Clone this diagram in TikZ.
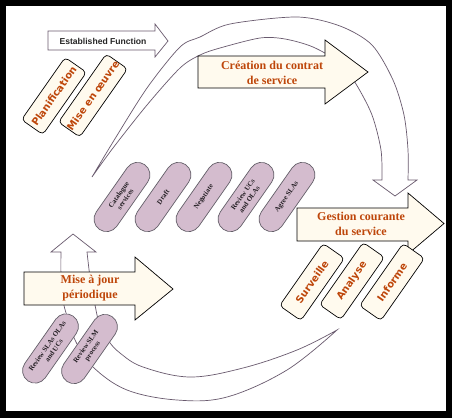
\documentclass[tikz,border=0pt]{standalone}
\usepackage{fontspec}
\usetikzlibrary{shapes.misc}
\newfontfamily\lserif{Liberation Serif}
\newfontfamily\dejavu{DejaVu Sans}
\newfontfamily\lsans{Liberation Sans}
\definecolor{cream}{RGB}{255,250,238}
\definecolor{txtorange}{RGB}{190,70,10}
\definecolor{bandgray}{RGB}{105,90,110}
\definecolor{pillpink}{RGB}{212,188,206}
\definecolor{pillborder}{RGB}{100,95,105}
\definecolor{pilltext}{RGB}{35,30,35}
\tikzset{
  band/.style={draw=bandgray, fill=white, line width=0.7pt},
  bigarrow/.style={draw=black, fill=cream, line width=0.7pt},
  bigtext/.style={font=\fontsize{12}{15}\selectfont\lserif\bfseries, text=txtorange, align=center, inner sep=0pt},
  creampill/.style={draw=black, fill=cream, rounded corners=4pt, minimum width=76pt, minimum height=26pt, rotate=55, inner sep=0pt, font=\fontsize{10}{12}\selectfont\dejavu\bfseries, text=txtorange, line width=0.7pt},
  pinkpill/.style={rounded rectangle, draw=pillborder, fill=pillpink, minimum width=79pt, minimum height=25pt, rotate=55, inner sep=0pt, font=\fontsize{7}{8}\selectfont\lserif\bfseries, text=pilltext, align=center, line width=0.7pt}
}
\begin{document}
\begin{tikzpicture}[x=1pt,y=-1pt]
\useasboundingbox (0,0) rectangle (452,418);
\fill[black] (0,0) rectangle (452,418);
\fill[white] (6,6) rectangle (446,411);

% top curved band
\draw[band] plot[smooth] coordinates {(92,177) (113,142) (147,88) (180,47) (200,37) (230,24) (297,17) (340,26) (372,45) (393,80) (404,115) (408,150) (408,180)}
  -- (417,180) -- (395,196) -- (373,180) -- (382,180)
  -- plot[smooth] coordinates {(382,180) (381,150) (372,115) (356,84) (340,63) (313,47) (285,39) (260,38) (220,48) (200,55) (180,68) (147,105) (113,148) (92,177)} -- cycle;

% bottom curved band with up arrow
\draw[band] plot[smooth, tension=0.6] coordinates {(337,330) (287,370) (227,397) (177,400) (127,390) (93,367) (76,342) (67,316) (63,300) (61,275) (61,252)}
  -- (51,252) -- (73,234) -- (96,252) -- (87,252)
  -- plot[smooth, tension=0.6] coordinates {(87,252) (91,285) (95,305) (99,322) (108,340) (120,353) (143,367) (190,377) (243,368) (297,350) (337,330)} -- cycle;

% Established Function
\draw[draw=bandgray, fill=white, line width=0.7pt] (48,31) -- (155,31) -- (155,24) -- (168,41) -- (155,57) -- (155,50) -- (48,50) -- cycle;
\node[font=\fontsize{8.6}{10}\selectfont\lsans\bfseries, text=black!85, inner sep=0pt] (estab) at (103,41) {Established Function};

% top-left cream pills
\node[creampill] (plan) at (54,96) {Planification};
\node[creampill] (oeuvre) at (93,95.5) {Mise en œuvre};

% Creation arrow
\draw[bigarrow] (198,56) -- (325,56) -- (325,40) -- (368,72) -- (325,104) -- (325,88) -- (198,88) -- cycle;
\node[bigtext] (creation) at (272,72.5) {Création du contrat\\de service};

% middle pink pills
\node[pinkpill] (cat) at (122,197) {Catalogue\\services};
\node[pinkpill] (draft) at (163,197) {Draft};
\node[pinkpill] (nego) at (204,197) {Negotiate};
\node[pinkpill] (revuc) at (246,197) {Review UCs\\and OLAs};
\node[pinkpill] (agree) at (287,197) {Agree SLAs};

% Gestion arrow
\draw[bigarrow] (297,208) -- (408,208) -- (408,193) -- (444,223.5) -- (408,254) -- (408,241) -- (297,241) -- cycle;
\node[bigtext] (gestion) at (361,224) {Gestion courante\\du service};

% right cream pills
\node[creampill] (surv) at (312,282) {Surveille};
\node[creampill] (anal) at (352,281) {Analyse};
\node[creampill] (info) at (392,282) {Informe};

% Mise a jour arrow
\draw[bigarrow] (24,272) -- (135,272) -- (135,257) -- (173,289) -- (135,320) -- (135,305) -- (24,305) -- cycle;
\node[bigtext] (maj) at (90,288.5) {Mise à jour\\périodique};

% bottom pink pills
\node[pinkpill] (revsla) at (50.5,348.5) {Review SLAs OLAs\\and UCs};
\node[pinkpill] (revslm) at (89.5,349) {Review SLM\\process};
\end{tikzpicture}
\end{document}
